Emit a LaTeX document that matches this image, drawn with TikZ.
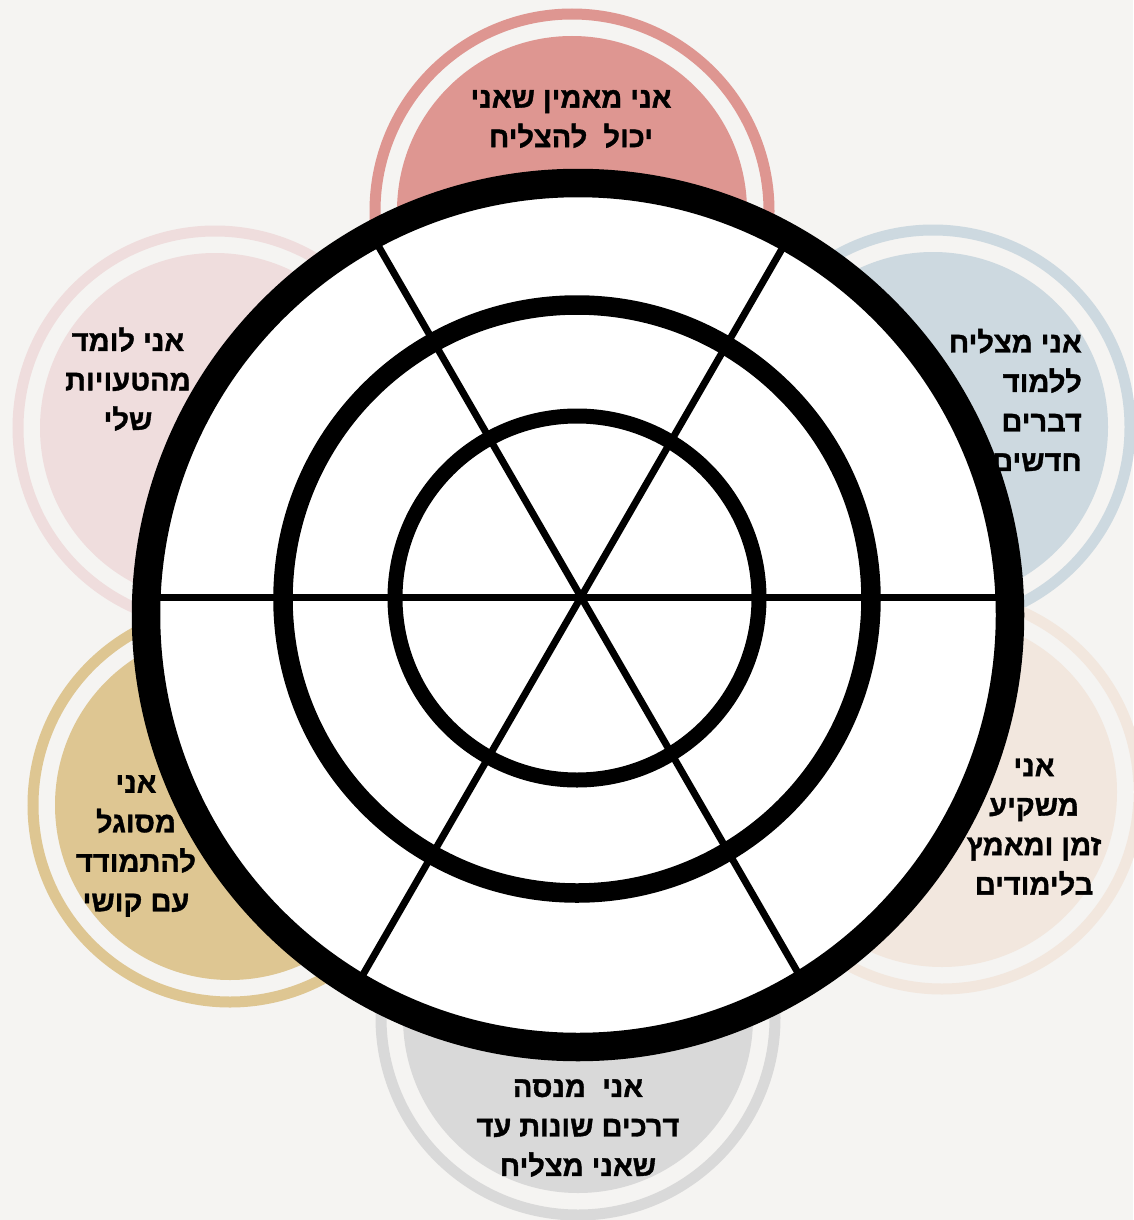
\documentclass[tikz,border=0pt]{standalone}
\usepackage{fontspec}
\newfontfamily\hebfont[Script=Hebrew,BoldFeatures={FakeBold=1.2}]{Liberation Sans}
\TeXXeTstate=1
\definecolor{bg}{HTML}{F5F4F2}
\definecolor{cTop}{HTML}{DE9691}
\definecolor{cTL}{HTML}{EFDDDD}
\definecolor{cTR}{HTML}{CDD9E0}
\definecolor{cBR}{HTML}{F2E7DE}
\definecolor{cBL}{HTML}{DEC692}
\definecolor{cBot}{HTML}{D9D9D9}
\tikzset{
  satdisk/.style={circle, minimum size=350pt, inner sep=0pt, draw=none},
  satring/.style={circle, minimum size=394pt, inner sep=0pt, line width=11pt, fill=none},
  lbl/.style={font=\hebfont\bfseries\fontsize{29}{39.5}\selectfont, inner sep=0pt, text=black},
  spoke/.style={line width=7pt, black},
}
\begin{document}
\begin{tikzpicture}[x=1pt,y=-1pt]
\useasboundingbox (0,0) rectangle (1133,1220);
\fill[bg] (0,0) rectangle (1133,1220);
% satellites
\node[satring, draw=cTR] (rTR) at (933,427) {};
\node[satdisk, fill=cTR] (dTR) at (933,427) {};
\node[satring, draw=cBR] (rBR) at (942,792) {};
\node[satdisk, fill=cBR] (dBR) at (942,792) {};
\node[satring, draw=cTL] (rTL) at (215,428) {};
\node[satdisk, fill=cTL] (dTL) at (215,428) {};
\node[satring, draw=cBL] (rBL) at (230,805) {};
\node[satdisk, fill=cBL] (dBL) at (230,805) {};
\node[satring, draw=cTop] (rTop) at (572,211) {};
\node[satdisk, fill=cTop] (dTop) at (572,211) {};
\node[satring, draw=cBot] (rBot) at (578,1018) {};
\node[satdisk, fill=cBot] (dBot) at (578,1018) {};
% wheel
\coordinate (wc) at (578,615);
\coordinate (mc) at (577,599);
\coordinate (ic) at (577,598);
\coordinate (hub) at (581,597);
\fill[white] (wc) circle (432pt);
\begin{scope}
  \clip (wc) circle (425pt);
  \draw[spoke] (hub) ++(0:500) -- ++(180:1000);
  \draw[spoke] (hub) ++(60:500) -- ++(240:1000);
  \draw[spoke] (hub) ++(120:500) -- ++(300:1000);
\end{scope}
\draw[line width=19.5pt] (mc) circle (294pt);
\draw[line width=15pt] (ic) circle (182pt);
\draw[line width=28.5pt] (wc) circle (432pt);
% labels
\node[lbl, align=center] (tTop) at (571,119) {\beginR אני מאמין שאני\endR\\\beginR יכול\ \ להצליח\endR};
\node[lbl, align=center] (tTL) at (128,379) {\beginR אני לומד\endR\\\beginR מהטעויות\endR\\\beginR שלי\endR};
\node[lbl, align=right, anchor=east] (tTR) at (1082,400) {\beginR אני מצליח\endR\\\beginR ללמוד\endR\\\beginR דברים\endR\\\beginR חדשים\endR};
\node[lbl, align=center] (tBR) at (1034,827) {\beginR אני\endR\\\beginR משקיע\endR\\\beginR זמן ומאמץ\endR\\\beginR בלימודים\endR};
\node[lbl, align=center] (tBL) at (136,846) {\beginR אני\endR\\\beginR מסוגל\endR\\\beginR להתמודד\endR\\\beginR עם קושי\endR};
\node[lbl, align=center] (tBot) at (578,1128) {\beginR אני\ \ מנסה\endR\\\beginR דרכים שונות עד\endR\\\beginR שאני מצליח\endR};
\end{tikzpicture}
\end{document}
